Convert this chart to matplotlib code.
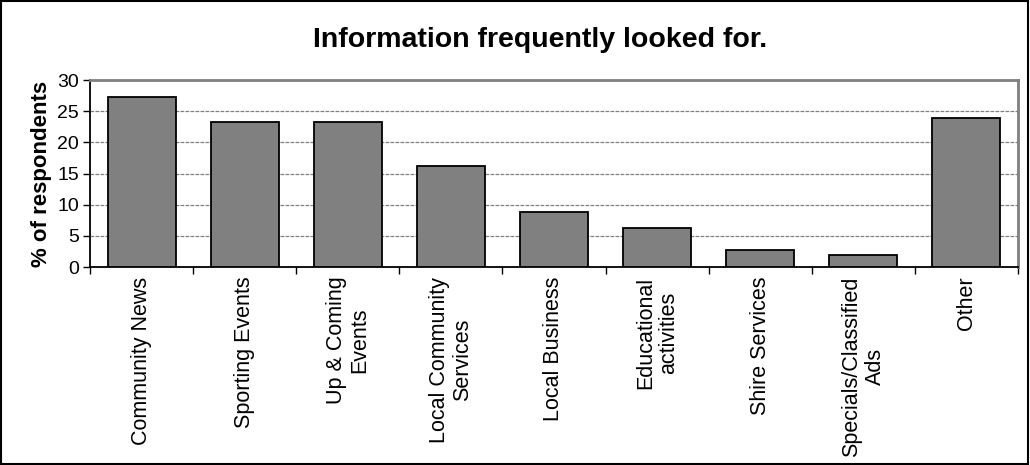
import matplotlib.pyplot as plt
import numpy as np

plt.rcParams['font.family'] = ['Liberation Sans', 'DejaVu Sans']

categories = ["Community News", "Sporting Events", "Up & Coming\nEvents",
              "Local Community\nServices", "Local Business", "Educational\nactivities",
              "Shire Services", "Specials/Classified\nAds", "Other"]
percent = [27.3, 23.2, 23.2, 16.2, 8.8, 6.3, 2.7, 2.0, 23.9]
yticks = [0, 5, 10, 15, 20, 25, 30]

fig = plt.figure(figsize=(10.3, 4.65), dpi=100)
ax = fig.add_axes([90 / 1030, 1 - 267 / 465, 928 / 1030, 187 / 465])

x = np.arange(len(categories))
ax.bar(x, percent, width=0.66, color='#808080', edgecolor='black', linewidth=1.3, zorder=3)

ax.set_xlim(-0.5, len(categories) - 0.5)
ax.set_ylim(0, 30)
ax.set_yticks(yticks)
ax.set_xticks(np.arange(len(categories) + 1) - 0.5)
ax.set_xticklabels([])
ax.set_xticks(x, minor=True)
ax.set_xticklabels(categories, minor=True, rotation=90, va='top', ha='center',
                   fontsize=15.5, multialignment='center', linespacing=1.15)
ax.tick_params(axis='x', which='minor', length=0, pad=7)
ax.tick_params(axis='x', which='major', length=5, width=1, direction='out')
ax.tick_params(axis='y', length=5, width=1, labelsize=14, pad=3)

ax.yaxis.grid(True, linestyle=(0, (3, 1)), color='#808080', linewidth=0.9, zorder=0)

for side in ['left', 'bottom']:
    ax.spines[side].set_color('black')
    ax.spines[side].set_linewidth(1.3)
for side in ['top', 'right']:
    ax.spines[side].set_color('#808080')
    ax.spines[side].set_linewidth(2)

ax.set_ylabel('% of respondents', fontsize=16, fontweight='bold', labelpad=4)
fig.text(540 / 1030, 1 - 40 / 465, 'Information frequently looked for.',
         ha='center', va='center', fontsize=20.5, fontweight='bold')

# outer frame
fig.patches.append(plt.Rectangle((0.001, 0.002), 0.997, 0.996, transform=fig.transFigure,
                                 fill=False, edgecolor='black', linewidth=1.5))

fig.savefig('out.png', dpi=100)
